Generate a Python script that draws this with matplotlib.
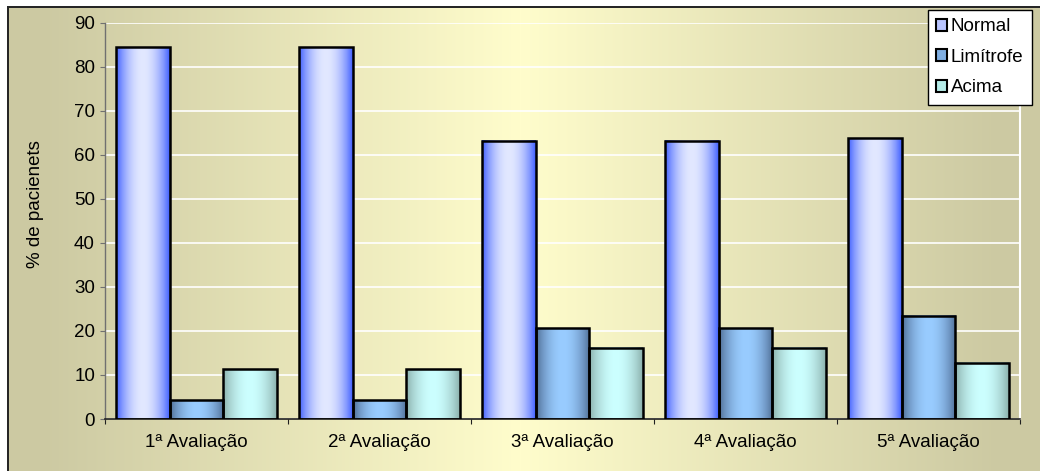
import numpy as np
import matplotlib
matplotlib.use("Agg")
import matplotlib.pyplot as plt
from matplotlib.patches import Patch

plt.rcParams['font.family'] = ['Liberation Sans', 'DejaVu Sans']

# Data
categories = ["1ª Avaliação", "2ª Avaliação", "3ª Avaliação", "4ª Avaliação", "5ª Avaliação"]
series_names = ["Normal", "Limítrofe", "Acima"]
normal = [84.4, 84.4, 63.2, 63.2, 63.8]
limitrofe = [4.3, 4.3, 20.6, 20.6, 23.4]
acima = [11.3, 11.3, 16.2, 16.2, 12.8]
yticks = [0, 10, 20, 30, 40, 50, 60, 70, 80, 90]

W, H, DPI = 1040, 471, 100
FS = 13.5
fig = plt.figure(figsize=(W / DPI, H / DPI), dpi=DPI)

# Chart-area background: horizontal khaki -> pale yellow -> khaki gradient
khaki = np.array([204, 201, 162]) / 255
light = np.array([255, 253, 204]) / 255
cols = np.arange(W)
t = np.clip(1 - np.abs(cols - 520) / 480.0, 0, 1)
row = khaki[None, :] + (light - khaki)[None, :] * t[:, None]
bg = np.repeat(row[None, :, :], H, axis=0)
bg[:, :7] = 1.0
bg[:6, :] = 1.0
bg[6:, 7:9] = 0.15
bg[6:8, 7:] = 0.15
bg_ax = fig.add_axes([0, 0, 1, 1], zorder=-5)
bg_ax.imshow(bg, extent=[0, 1, 0, 1], aspect='auto', interpolation='nearest')
bg_ax.set_xlim(0, 1)
bg_ax.set_ylim(0, 1)
bg_ax.axis('off')

# Plot area
left, right = 105 / W, 1020 / W
bottom, top = 1 - 419 / H, 1 - 22.7 / H
ax = fig.add_axes([left, bottom, right - left, top - bottom])
ax.set_facecolor('none')

edge_cols = [np.array([60, 92, 255]) / 255,
             np.array([78, 108, 148]) / 255,
             np.array([138, 174, 170]) / 255]
mid_cols = [np.array([226, 232, 255]) / 255,
            np.array([153, 204, 255]) / 255,
            np.array([204, 255, 255]) / 255]


def bar_gradient(edge, mid, n=64):
    u = np.linspace(0, 1, n)
    f = np.sin(np.pi * u) ** 0.8
    g = edge[None, :] + (mid - edge)[None, :] * f[:, None]
    return g[None, :, :]


gap = 0.4
w = 1 / (3 + gap)
x = np.arange(len(categories))
all_vals = [normal, limitrofe, acima]
for i, vals in enumerate(all_vals):
    xs = x + (i - 1) * w
    grad = bar_gradient(edge_cols[i], mid_cols[i])
    for xc, v in zip(xs, vals):
        ax.imshow(grad, extent=[xc - w / 2, xc + w / 2, 0, v], aspect='auto',
                  interpolation='bilinear', zorder=2)
    ax.bar(xs, vals, width=w, facecolor='none', edgecolor='black',
           linewidth=1.8, zorder=3)

ax.set_xlim(-0.5, len(categories) - 0.5)
ax.set_ylim(0, 90)

# Grid and spines
ax.set_yticks(yticks)
ax.yaxis.grid(True, color='white', linewidth=1.2)
ax.set_axisbelow(True)
ax.spines['top'].set_visible(False)
ax.spines['right'].set_color('white')
ax.spines['right'].set_linewidth(1.5)
ax.spines['left'].set_color('#707070')
ax.spines['left'].set_linewidth(1.0)
ax.spines['bottom'].set_color('#202020')
ax.spines['bottom'].set_linewidth(1.2)

bounds = np.arange(-0.5, len(categories), 1.0)
ax.set_xticks(bounds, labels=[''] * len(bounds))
ax.set_xticks(x, labels=categories, minor=True)
ax.tick_params(axis='x', which='major', length=3.6, direction='out', color='#202020')
ax.tick_params(axis='x', which='minor', length=0, pad=11, labelsize=FS)
ax.tick_params(axis='y', length=3.6, direction='out', color='#707070', pad=3.6, labelsize=FS)

fig.text(36 / W, 1 - 204 / H, "% de pacienets", rotation=90, ha='center', va='center',
         fontsize=FS)

# Legend
leg_cols = ['#B8C4FF', '#7FAEE2', '#B5ECE8']
handles = [Patch(facecolor=c, edgecolor='black', linewidth=1.5) for c in leg_cols]
leg = fig.legend(handles, series_names, loc='upper right',
                 bbox_to_anchor=(1032 / W, 1 - 10 / H), bbox_transform=fig.transFigure,
                 fontsize=FS, frameon=True, fancybox=False, edgecolor='black',
                 facecolor='white', framealpha=1, handlelength=0.6, handleheight=0.6,
                 handletextpad=0.2, labelspacing=0.72, borderpad=0.45, borderaxespad=0)
leg.get_frame().set_linewidth(1.0)

fig.savefig("out.png", dpi=DPI)
